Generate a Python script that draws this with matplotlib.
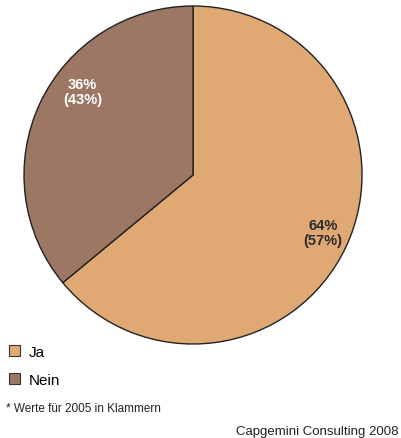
import matplotlib.pyplot as plt
import numpy as np

plt.rcParams['font.family'] = ['Liberation Sans', 'DejaVu Sans']

# Daten
categories = ['Ja', 'Nein']
values_2008 = [64, 36]
values_2005 = [57, 43]
colors = ['#E0A974', '#9C7764']
text_colors = ['#2b2b2b', 'white']

fig = plt.figure(figsize=(4.01, 4.39), dpi=100)
ax = fig.add_axes([23 / 401, 1 - 345 / 439, 340 / 401, 338 / 439])

wedges, _ = ax.pie(values_2008, colors=colors, startangle=90, counterclock=False,
                   wedgeprops=dict(edgecolor='#222222', linewidth=1.0))
ax.set_xlim(-1.0, 1.0)
ax.set_ylim(-1.0, 1.0)

# Beschriftung in den Segmenten (Radius, Winkelversatz)
label_pos = [(0.84, 1.5), (0.82, -12)]
for w, v, v05, tc, (r, dth) in zip(wedges, values_2008, values_2005, text_colors, label_pos):
    theta = np.deg2rad((w.theta1 + w.theta2) / 2 + dth)
    ax.text(r * np.cos(theta), r * np.sin(theta), f'{v}%\n({v05}%)',
            ha='center', va='center', fontsize=10.5, fontweight='bold',
            color=tc, linespacing=1.1)

fig.legend(wedges, categories, loc='upper left', bbox_to_anchor=(4 / 401, 1 - 341 / 439),
           frameon=False, fontsize=11, handlelength=0.75, handleheight=0.75,
           handletextpad=0.55, labelspacing=0.95, borderaxespad=0.0, borderpad=0.3)
for h in fig.legends[0].legend_handles:
    h.set_edgecolor('#333333')
    h.set_linewidth(0.8)

fig.text(6 / 401, 1 - 409 / 439, '* Werte für 2005 in Klammern', fontsize=8.5,
         ha='left', va='center', color='#222222')
fig.text(398 / 401, 1 - 432 / 439, 'Capgemini Consulting 2008', fontsize=9.5,
         ha='right', va='center', color='#222222')

fig.savefig('out.png', dpi=100)
